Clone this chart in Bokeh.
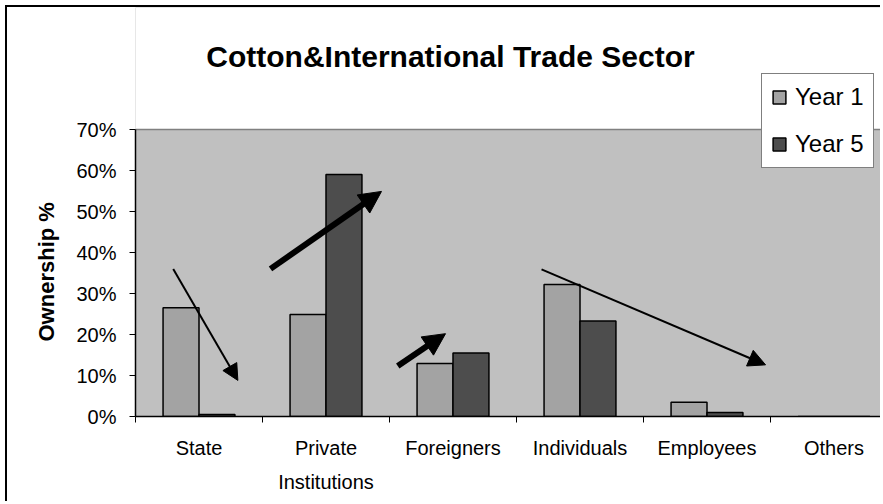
from bokeh.plotting import figure
from bokeh.models import (Range1d, FixedTicker, Arrow, NormalHead, Legend,
                          LegendItem, Label, PrintfTickFormatter, ColumnDataSource,
                          BoxAnnotation, Span, Title)
from bokeh.embed import file_html
from bokeh.resources import INLINE

# ---- data ----
categories = ["State", "Private\nInstitutions", "Foreigners", "Individuals", "Employees", "Others"]
year1 = [26.5, 24.9, 12.9, 32.2, 3.5, 0.0]
year5 = [0.5, 59.0, 15.5, 23.3, 1.0, 0.0]
y_ticks = [0, 10, 20, 30, 40, 50, 60, 70]
series_names = ["Year 1", "Year 5"]
title_text = "Cotton&International Trade Sector"
y_label = "Ownership %"

# trend arrows (x in category units, y in %): start -> end
arrow_x0 = [0.297, 1.063, 2.065, 3.197]
arrow_y0 = [36.0, 36.0, 12.3, 35.9]
arrow_x1 = [0.806, 1.937, 2.441, 4.961]
arrow_y1 = [8.8, 54.9, 20.2, 12.6]
arrow_w = [2, 6, 6, 2]
arrow_head = [16, 22, 22, 17]

FONT = "Liberation Sans"
BAR_W = 0.283
Y_MAX = 70

# layout (pixels)
W, H = 875, 496
BL, BB = 128, 87
FRAME_W = W - BL            # frame reaches the right edge (chart is cropped there)
FRAME_H = H - BB            # frame reaches the top edge; area above 70% painted white
CAT_PX = 127.0
PLOT_PX = 287.0             # pixels from 0% to 70%
X_END = FRAME_W / CAT_PX
Y_END = Y_MAX * FRAME_H / PLOT_PX

p = figure(width=W, height=H,
           x_range=Range1d(0, X_END), y_range=Range1d(0, Y_END),
           output_backend="svg", toolbar_location=None,
           min_border_left=BL, min_border_right=0,
           min_border_top=0, min_border_bottom=BB,
           background_fill_color="#C0C0C0", border_fill_color="white",
           outline_line_color=None,
           styles={"border-left": "2px solid black", "border-top": "2px solid black",
                   "margin-left": "5px", "margin-top": "5px"})
p.xgrid.visible = False
p.ygrid.visible = False

# white area above the plotting area + its grey top edge
p.add_layout(BoxAnnotation(bottom=Y_MAX, fill_color="white", fill_alpha=1.0,
                           line_color=None, level="underlay"))
p.add_layout(Span(location=Y_MAX, dimension="width", line_color="#808080",
                  line_width=1.5, level="underlay"))

n = len(categories)
centers = [i + 0.5 for i in range(n)]
src = ColumnDataSource(dict(
    x1=[c - BAR_W / 2 for c in centers],
    x5=[c + BAR_W / 2 for c in centers],
    y1=year1, y5=year5))

r1 = p.vbar(x="x1", top="y1", bottom=0, width=BAR_W, source=src,
            fill_color="#A3A3A3", line_color="black", line_width=1.5)
r5 = p.vbar(x="x5", top="y5", bottom=0, width=BAR_W, source=src,
            fill_color="#4D4D4D", line_color="black", line_width=1.5)

# x axis
xa = p.xaxis[0]
xa.ticker = FixedTicker(ticks=centers, minor_ticks=list(range(n)))
xa.major_label_overrides = {c: lab for c, lab in zip(centers, categories)}
xa.major_tick_out = 0
xa.major_tick_in = 0
xa.minor_tick_out = 6
xa.minor_tick_in = 0
xa.minor_tick_line_color = "black"
xa.axis_line_color = "black"
xa.axis_line_width = 1.5
xa.major_label_text_font = FONT
xa.major_label_text_font_size = "20px"
xa.major_label_text_color = "black"
xa.major_label_text_line_height = 1.55
xa.major_label_standoff = 14

# y axis (only 0%..70%)
ya = p.yaxis[0]
ya.bounds = (0, Y_MAX)
ya.ticker = FixedTicker(ticks=y_ticks)
ya.formatter = PrintfTickFormatter(format="%d%%")
ya.major_tick_out = 6
ya.major_tick_in = 0
ya.minor_tick_line_color = None
ya.axis_line_color = "black"
ya.axis_line_width = 1.5
ya.major_tick_line_color = "black"
ya.major_label_text_font = FONT
ya.major_label_text_font_size = "20px"
ya.major_label_text_color = "black"
ya.major_label_standoff = 13

# y-axis title, centred on the 0%..70% span
p.add_layout(Title(text=y_label, align="left", offset=75, vertical_align="bottom",
                   standoff=30, text_font=FONT, text_font_size="22px",
                   text_font_style="bold", text_color="black"), "left")

# arrows: shaft as segment, head as Arrow annotation
PX_X = CAT_PX
PX_Y = PLOT_PX / Y_MAX
sx0, sy0, sx1, sy1, sw = [], [], [], [], []
for x0, y0, x1, y1, w, hs in zip(arrow_x0, arrow_y0, arrow_x1, arrow_y1, arrow_w, arrow_head):
    dx = (x1 - x0) * PX_X
    dy = (y1 - y0) * PX_Y
    L = (dx * dx + dy * dy) ** 0.5
    f = (L - hs * 0.5) / L
    sx0.append(x0); sy0.append(y0)
    sx1.append(x0 + (x1 - x0) * f); sy1.append(y0 + (y1 - y0) * f)
    sw.append(w)
    p.add_layout(Arrow(end=NormalHead(size=hs, fill_color="black", line_color="black", line_width=1),
                       x_start=x0, y_start=y0, x_end=x1, y_end=y1,
                       line_alpha=0))
p.segment(x0=sx0, y0=sy0, x1=sx1, y1=sy1, line_width=sw, line_color="black")

# chart title
p.add_layout(Label(x=2.48, y=87.8, text=title_text,
                   text_align="center", text_baseline="middle",
                   text_font=FONT, text_font_size="30px", text_font_style="bold",
                   text_color="black"))

# legend
legend = Legend(items=[LegendItem(label=series_names[0], renderers=[r1]),
                       LegendItem(label=series_names[1], renderers=[r5])],
                location=(626, 248), orientation="vertical",
                label_text_font=FONT, label_text_font_size="24px",
                label_text_color="black",
                glyph_width=16, glyph_height=16, label_height=28,
                label_standoff=8, spacing=19, padding=9, margin=0,
                border_line_color="black", border_line_width=1.5,
                background_fill_color="white", background_fill_alpha=1.0)
p.add_layout(legend)

open("out.html", "w").write(file_html(p, INLINE))
